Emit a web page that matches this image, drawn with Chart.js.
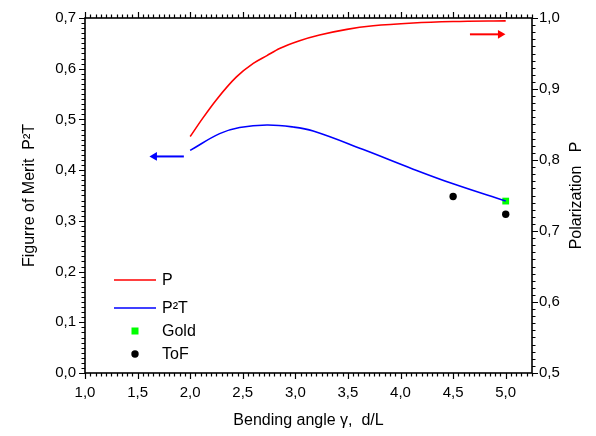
<!DOCTYPE html>
<html><head><meta charset="utf-8">
<script src="https://cdn.jsdelivr.net/npm/chart.js@4/dist/chart.umd.min.js"></script>
<style>html,body{margin:0;padding:0;background:#fff}</style>
</head><body>
<canvas id="c" width="596" height="436"></canvas>
<script>
// ---- data ----
const polX   = [2.0, 2.12, 2.25, 2.44, 2.60, 2.73, 2.85, 3.04, 3.23, 3.49, 3.74, 4.12, 4.50, 5.0];
const polY   = [0.833, 0.859, 0.885, 0.917, 0.936, 0.947, 0.957, 0.968, 0.976, 0.984, 0.989, 0.993, 0.995, 0.996];
const fomX   = [2.0, 2.28, 2.47, 2.73, 2.98, 3.17, 3.64, 4.12, 4.50, 5.0];
const fomY   = [0.439, 0.472, 0.484, 0.489, 0.485, 0.477, 0.441, 0.402, 0.373, 0.339];
const goldX  = [5.0];
const goldY  = [0.339];
const tofX   = [4.5, 5.0];
const tofY   = [0.348, 0.313];
const arrowFomX = [1.94, 1.66];
const arrowFomY = [0.427, 0.427];
const arrowPolX = [4.66, 4.95];
const arrowPolY = [0.977, 0.977];
const xTickValues  = [1.0, 1.5, 2.0, 2.5, 3.0, 3.5, 4.0, 4.5, 5.0];
const yTickValues  = [0.0, 0.1, 0.2, 0.3, 0.4, 0.5, 0.6, 0.7];
const y2TickValues = [0.5, 0.6, 0.7, 0.8, 0.9, 1.0];
const legendLabels = ['P', 'P\u00B2T', 'Gold', 'ToF'];
const rightTitle = 'Polarization   P';

const pts = (xs, ys) => xs.map((x, i) => ({x, y: ys[i]}));
const fmt = v => Number(v).toFixed(1).replace('.', ',');
const FONT = '"Liberation Sans", Arial, sans-serif';

const frameTicks = {
  id: 'frameTicks',
  afterDatasetsDraw(chart) {
    const {ctx, chartArea: a, scales} = chart;
    const x = scales.x, y = scales.y, y2 = scales.y2;
    ctx.save();
    ctx.strokeStyle = '#000';
    ctx.lineWidth = 1.2;
    ctx.beginPath();
    const tick = (x1, y1, x2, y2_) => { ctx.moveTo(x1, y1); ctx.lineTo(x2, y2_); };
    const MAJ = 6, MIN = 3.5;
    for (let i = 0; i <= 85; i++) {
      const v = 1 + i * 0.05;
      if (v > x.max + 1e-9) break;
      const px = Math.round(x.getPixelForValue(v)) + 0.5;
      const L = i % 10 === 0 ? MAJ : MIN;
      tick(px, a.bottom, px, a.bottom + L);
      tick(px, a.top, px, a.top - L);
    }
    for (let i = 0; i <= 70; i++) {
      const py = Math.round(y.getPixelForValue(i * 0.01)) + 0.5;
      const L = i % 10 === 0 ? MAJ : MIN;
      tick(a.left, py, a.left - L, py);
    }
    for (let i = 0; i <= 50; i++) {
      const py = Math.round(y2.getPixelForValue(0.5 + i * 0.01)) + 0.5;
      const L = i % 10 === 0 ? MAJ : MIN;
      tick(a.right, py, a.right + L, py);
    }
    ctx.stroke();
    ctx.lineWidth = 1.6;
    ctx.strokeRect(a.left, a.top, a.right - a.left, a.bottom - a.top);
    ctx.restore();
  },
  afterDraw(chart) {
    const {ctx, chartArea: a} = chart;
    const lx1 = a.left + 29, lx2 = a.left + 71, mx = a.left + 50, tx = a.left + 77;
    const rows = [a.bottom - 93, a.bottom - 65, a.bottom - 42, a.bottom - 19];
    ctx.save();
    ctx.font = '16px ' + FONT;
    ctx.fillStyle = '#000';
    ctx.textBaseline = 'middle';
    ctx.lineWidth = 1.6;
    ctx.strokeStyle = '#ff0000';
    ctx.beginPath(); ctx.moveTo(lx1, rows[0]); ctx.lineTo(lx2, rows[0]); ctx.stroke();
    ctx.strokeStyle = '#0000ff';
    ctx.beginPath(); ctx.moveTo(lx1, rows[1]); ctx.lineTo(lx2, rows[1]); ctx.stroke();
    ctx.fillStyle = '#00ff00';
    ctx.fillRect(mx - 3.5, rows[2] - 3.5, 7, 7);
    ctx.fillStyle = '#000';
    ctx.beginPath(); ctx.arc(mx, rows[3], 3.7, 0, Math.PI * 2); ctx.fill();
    legendLabels.forEach((t, i) => ctx.fillText(t, tx, rows[i] + 1));
    // right axis title, reading bottom-to-top like the reference
    ctx.translate(a.right + 45, (a.top + a.bottom) / 2);
    ctx.rotate(-Math.PI / 2);
    ctx.textAlign = 'center';
    ctx.fillText(rightTitle, 0, 0);
    ctx.restore();
  }
};

new Chart(document.getElementById('c'), {
  type: 'scatter',
  data: {
    datasets: [
      { label: 'P', data: pts(polX, polY), yAxisID: 'y2', showLine: true, borderColor: '#ff0000',
        borderWidth: 1.6, pointRadius: 0, cubicInterpolationMode: 'monotone', fill: false },
      { label: 'P\u00B2T', data: pts(fomX, fomY), yAxisID: 'y', showLine: true, borderColor: '#0000ff',
        borderWidth: 1.6, pointRadius: 0, tension: 0.4, fill: false },
      { label: 'Gold', data: pts(goldX, goldY), yAxisID: 'y', pointStyle: 'rect', pointRadius: 4.8,
        backgroundColor: '#00ff00', borderColor: '#00ff00', borderWidth: 0 },
      { label: 'ToF', data: pts(tofX, tofY), yAxisID: 'y', pointStyle: 'circle', pointRadius: 3.7,
        backgroundColor: '#000', borderColor: '#000', borderWidth: 0 },
      { label: 'arrowFom', data: pts(arrowFomX, arrowFomY), yAxisID: 'y', showLine: true,
        borderColor: '#0000ff', backgroundColor: '#0000ff', borderWidth: 2, pointStyle: 'triangle',
        pointRadius: [0, 5], rotation: -90, pointBorderWidth: 0 },
      { label: 'arrowPol', data: pts(arrowPolX, arrowPolY), yAxisID: 'y2', showLine: true,
        borderColor: '#ff0000', backgroundColor: '#ff0000', borderWidth: 2, pointStyle: 'triangle',
        pointRadius: [0, 5], rotation: 90, pointBorderWidth: 0 }
    ]
  },
  options: {
    responsive: false,
    animation: false,
    events: [],
    layout: { padding: { top: 14, left: 0, right: 0, bottom: 0 } },
    plugins: { legend: { display: false }, tooltip: { enabled: false } },
    scales: {
      x: {
        type: 'linear', min: 1.0, max: 5.25, position: 'bottom',
        afterFit: s => { s.height = 63; },
        afterBuildTicks: s => { s.ticks = xTickValues.map(v => ({value: v})); },
        grid: { display: false, drawTicks: false },
        border: { display: false },
        ticks: { callback: fmt, color: '#000', padding: 11, font: { family: FONT, size: 15 }, maxRotation: 0 },
        title: { display: true, text: 'Bending angle \u03B3,  d/L', color: '#000',
                 font: { family: FONT, size: 16 }, padding: { top: 0, bottom: 6 }, align: 'center' }
      },
      y: {
        type: 'linear', min: 0, max: 0.7, position: 'left',
        afterFit: s => { s.width = 85; },
        afterBuildTicks: s => { s.ticks = yTickValues.map(v => ({value: v})); },
        grid: { display: false, drawTicks: false },
        border: { display: false },
        ticks: { callback: fmt, color: '#000', padding: 9, font: { family: FONT, size: 15 } },
        title: { display: true, text: 'Figurre of Merit  P\u00B2T', color: '#000',
                 font: { family: FONT, size: 16 }, padding: { top: 20, bottom: 0 } }
      },
      y2: {
        type: 'linear', min: 0.5, max: 1.0, position: 'right',
        afterFit: s => { s.width = 64; },
        afterBuildTicks: s => { s.ticks = y2TickValues.map(v => ({value: v})); },
        grid: { display: false, drawTicks: false },
        border: { display: false },
        ticks: { callback: fmt, color: '#000', padding: 7, font: { family: FONT, size: 15 } },
        title: { display: false }
      }
    }
  },
  plugins: [frameTicks]
});
</script>
</body></html>
